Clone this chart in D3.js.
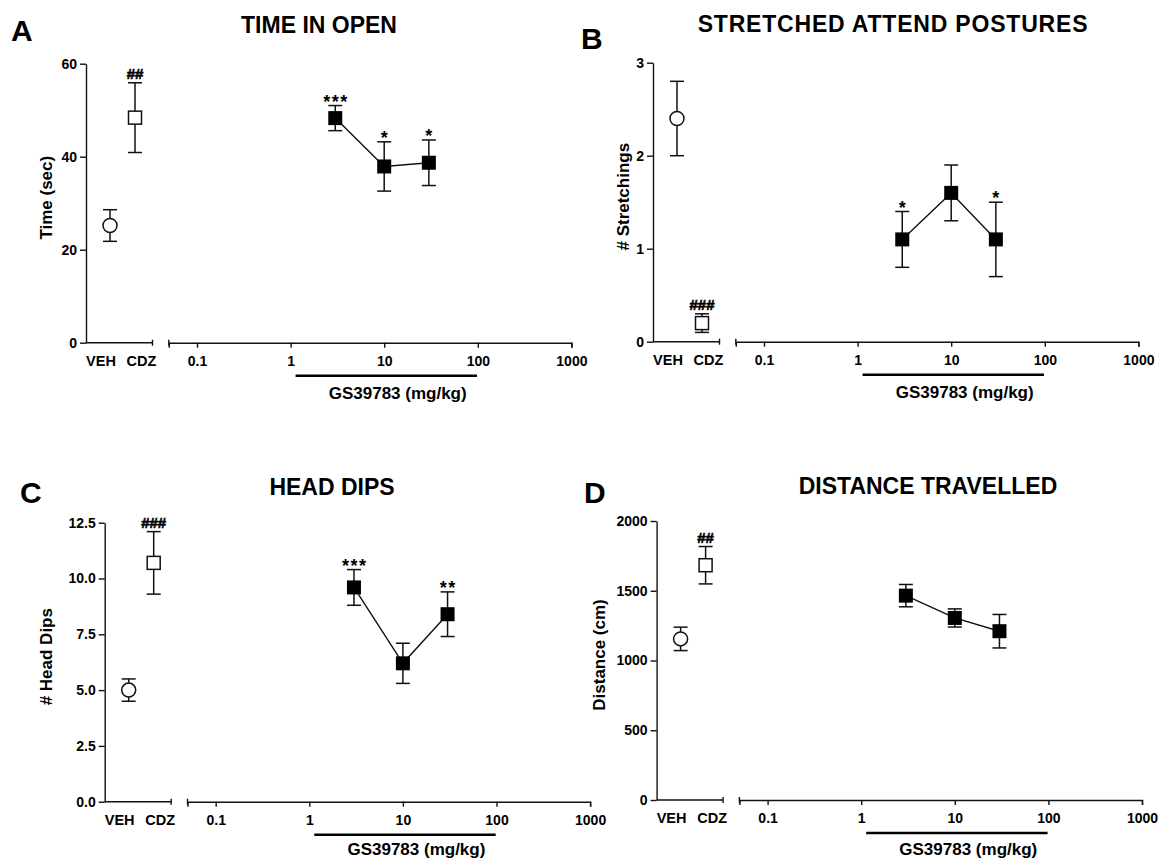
<!DOCTYPE html>
<html>
<head>
<meta charset="utf-8">
<script src="https://cdn.jsdelivr.net/npm/d3@7"></script>
<style>
body { margin: 0; background: #fff; }
</style>
</head>
<body>
<div id="chart"></div>
<script>
var groups = ["VEH", "CDZ"];
var doses = [3, 10, 30];
var doseTicks = [0.1, 1, 10, 100, 1000];

// time in open (sec)
var timeTicks = [0, 20, 40, 60];
var timeCtrl = [25.2, 48.4], timeCtrlErr = [3.4, 7.5], timeCtrlSig = ["", "##"];
var timeGs = [48.3, 37.9, 38.7], timeGsErr = [2.7, 5.3, 4.9], timeGsSig = ["***", "*", "*"];

// stretched attend postures
var sapTicks = [0, 1, 2, 3];
var sapCtrl = [2.4, 0.2], sapCtrlErr = [0.4, 0.1], sapCtrlSig = ["", "###"];
var sapGs = [1.1, 1.6, 1.1], sapGsErr = [0.3, 0.3, 0.4], sapGsSig = ["*", "", "*"];

// head dips
var dipTicks = [0, 2.5, 5, 7.5, 10, 12.5];
var dipCtrl = [5.0, 10.7], dipCtrlErr = [0.5, 1.4], dipCtrlSig = ["", "###"];
var dipGs = [9.6, 6.2, 8.4], dipGsErr = [0.8, 0.9, 1.0], dipGsSig = ["***", "", "**"];

// distance travelled (cm)
var distTicks = [0, 500, 1000, 1500, 2000];
var distCtrl = [1155, 1683], distCtrlErr = [84, 134], distCtrlSig = ["", "##"];
var distGs = [1465, 1305, 1210], distGsErr = [80, 65, 120], distGsSig = ["", "", ""];

var FONT = "'Liberation Sans', Arial, Helvetica, sans-serif";

var svg = d3.select("#chart").append("svg")
	.attr("width", 1161)
	.attr("height", 861)
	.attr("font-family", FONT)
	.attr("font-weight", "bold");

var panels = [
	{letter: "A", lx: 11, ly: 41, title: "TIME IN OPEN", tx: 319, ty: 33, ylabel: "Time (sec)", yOff: -40,
		ax: 86, base: 342.7, ticks: timeTicks, fmt: d3.format("d"),
		ctrl: timeCtrl, ctrlErr: timeCtrlErr, ctrlSig: timeCtrlSig, gs: timeGs, gsErr: timeGsErr, gsSig: timeGsSig},
	{letter: "B", lx: 581, ly: 49, title: "STRETCHED ATTEND POSTURES", tx: 893, ty: 32, ylabel: "# Stretchings", yOff: -30,
		ax: 653, base: 341.7, ticks: sapTicks, fmt: d3.format("d"),
		ctrl: sapCtrl, ctrlErr: sapCtrlErr, ctrlSig: sapCtrlSig, gs: sapGs, gsErr: sapGsErr, gsSig: sapGsSig},
	{letter: "C", lx: 20, ly: 503, title: "HEAD DIPS", tx: 332, ty: 495, ylabel: "# Head Dips", yOff: -58.5,
		ax: 104.7, base: 801.7, ticks: dipTicks, fmt: d3.format(".1f"),
		ctrl: dipCtrl, ctrlErr: dipCtrlErr, ctrlSig: dipCtrlSig, gs: dipGs, gsErr: dipGsErr, gsSig: dipGsSig},
	{letter: "D", lx: 584, ly: 503, title: "DISTANCE TRAVELLED", tx: 928, ty: 494, ylabel: "Distance (cm)", yOff: -58,
		ax: 656.6, base: 800, ticks: distTicks, fmt: d3.format("d"),
		ctrl: distCtrl, ctrlErr: distCtrlErr, ctrlSig: distCtrlSig, gs: distGs, gsErr: distGsErr, gsSig: distGsSig}
];

panels.forEach(drawPanel);

function styleAxis(g) {
	g.attr("font-family", FONT).attr("font-size", 14).attr("font-weight", "bold");
	g.selectAll("path, line").attr("stroke", "#111").attr("stroke-width", 1.4);
	g.selectAll("text").attr("fill", "#000");
}

function errBar(g, cx, yTop, yBot) {
	g.append("line").attr("x1", cx).attr("x2", cx).attr("y1", yTop).attr("y2", yBot);
	g.append("line").attr("x1", cx - 7).attr("x2", cx + 7).attr("y1", yTop).attr("y2", yTop);
	g.append("line").attr("x1", cx - 7).attr("x2", cx + 7).attr("y1", yBot).attr("y2", yBot);
}

function drawPanel(p) {
	var g = svg.append("g");
	var dec = 93.6, x01 = p.ax + 111;

	var y = d3.scaleLinear().domain([0, d3.max(p.ticks)]).range([p.base, p.base - 279]);
	var xc = d3.scalePoint().domain(groups).range([p.ax + 24, p.ax + 49]);
	var xl = d3.scalePoint().domain(groups).range([p.ax + 15, p.ax + 55.5]);
	var x = d3.scaleLog().domain([0.05, 1000])
		.range([x01 - Math.log10(2) * dec, x01 + 4 * dec]);

	// panel letter and title
	g.append("text").attr("x", p.lx).attr("y", p.ly).attr("font-size", 30).text(p.letter);
	g.append("text").attr("x", p.tx).attr("y", p.ty).attr("font-size", 23)
		.attr("text-anchor", "middle")
		.attr("letter-spacing", p.letter == "B" ? 0.8 : 0)
		.text(p.title);

	// y axis
	g.append("g").attr("transform", "translate(" + p.ax + ",0)")
		.call(d3.axisLeft(y).tickValues(p.ticks).tickFormat(p.fmt).tickSize(6).tickSizeOuter(0).tickPadding(3))
		.call(styleAxis);

	g.append("text")
		.attr("transform", "translate(" + (p.ax + p.yOff) + "," + (p.base - 145) + ") rotate(-90)")
		.attr("text-anchor", "middle").attr("dy", "0.35em").attr("font-size", 17)
		.text(p.ylabel);

	// control segment of x axis
	var seg = g.append("g").attr("stroke", "#111").attr("stroke-width", 1.4);
	seg.append("line").attr("x1", p.ax).attr("x2", p.ax + 66.5).attr("y1", p.base).attr("y2", p.base);
	seg.append("line").attr("x1", p.ax + 66.5).attr("x2", p.ax + 66.5).attr("y1", p.base - 3).attr("y2", p.base + 3);
	g.selectAll(".grp").data(groups).enter().append("text")
		.attr("x", function(d) { return xl(d); })
		.attr("y", p.base + 23)
		.attr("text-anchor", "middle").attr("font-size", 14.5)
		.text(function(d) { return d; });

	// dose axis (log)
	g.append("g").attr("transform", "translate(0," + p.base + ")")
		.call(d3.axisBottom(x).tickValues(doseTicks).tickFormat(function(d) { return String(d); })
			.tickSize(5).tickSizeOuter(5).tickPadding(8))
		.call(styleAxis);
	seg.append("line").attr("x1", x(0.05)).attr("x2", x(0.05)).attr("y1", p.base - 3).attr("y2", p.base + 3);

	g.append("line")
		.attr("x1", x(1.13)).attr("x2", x(98))
		.attr("y1", p.base + 33).attr("y2", p.base + 33)
		.attr("stroke", "#000").attr("stroke-width", 2.5);
	g.append("text").attr("x", x(10) + 13.5).attr("y", Math.min(p.base + 56, 855))
		.attr("text-anchor", "middle").attr("font-size", 17)
		.text("GS39783 (mg/kg)");

	// error bars
	var eb = g.append("g").attr("stroke", "#111").attr("stroke-width", 1.5);
	groups.forEach(function(d, i) {
		errBar(eb, xc(d), y(p.ctrl[i] + p.ctrlErr[i]), y(p.ctrl[i] - p.ctrlErr[i]));
	});
	doses.forEach(function(d, i) {
		errBar(eb, x(d), y(p.gs[i] + p.gsErr[i]), y(p.gs[i] - p.gsErr[i]));
	});

	// dose-response line
	var pts = doses.map(function(d, i) { return {dose: d, v: p.gs[i]}; });
	g.append("path").datum(pts)
		.attr("fill", "none").attr("stroke", "#111").attr("stroke-width", 1.4)
		.attr("d", d3.line().x(function(d) { return x(d.dose); }).y(function(d) { return y(d.v); }));

	// markers
	g.append("circle").attr("cx", xc("VEH")).attr("cy", y(p.ctrl[0])).attr("r", 7)
		.attr("fill", "#fff").attr("stroke", "#111").attr("stroke-width", 1.5);
	g.append("rect").attr("x", xc("CDZ") - 6.5).attr("y", y(p.ctrl[1]) - 6.5)
		.attr("width", 13).attr("height", 13)
		.attr("fill", "#fff").attr("stroke", "#111").attr("stroke-width", 1.5);
	g.selectAll(".gs").data(pts).enter().append("rect")
		.attr("x", function(d) { return x(d.dose) - 7; })
		.attr("y", function(d) { return y(d.v) - 7; })
		.attr("width", 14).attr("height", 14)
		.attr("fill", "#000");

	// significance marks
	groups.forEach(function(d, i) {
		if (!p.ctrlSig[i]) return;
		g.append("text").attr("x", xc(d)).attr("y", y(p.ctrl[i] + p.ctrlErr[i]) - 4)
			.attr("text-anchor", "middle").attr("font-size", 15)
			.attr("stroke", "#000").attr("stroke-width", 0.6)
			.text(p.ctrlSig[i]);
	});
	doses.forEach(function(d, i) {
		if (!p.gsSig[i]) return;
		g.append("text").attr("x", x(d) + 0.75).attr("y", y(p.gs[i] + p.gsErr[i]) + 2)
			.attr("text-anchor", "middle").attr("font-size", 18).attr("letter-spacing", 1.5)
			.text(p.gsSig[i]);
	});
}
</script>
</body>
</html>
